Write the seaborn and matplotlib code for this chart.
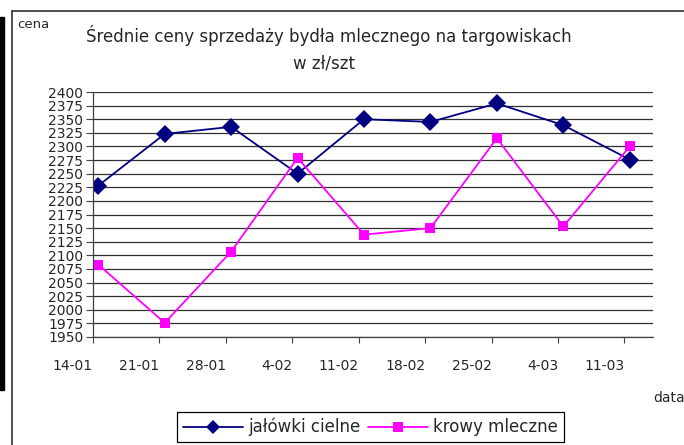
import pandas as pd
import matplotlib.pyplot as plt
import seaborn as sns
from matplotlib.lines import Line2D
from matplotlib.patches import Rectangle

# --- dane ---
daty = ['14-01', '21-01', '28-01', '4-02', '11-02', '18-02', '25-02', '4-03', '11-03']
jalowki = [2228, 2323, 2336, 2250, 2350, 2345, 2379, 2339, 2276]
krowy = [2083, 1976, 2107, 2279, 2138, 2150, 2315, 2153, 2300]
serie = ['jałówki cielne', 'krowy mleczne']
y_ticks = list(range(1950, 2401, 25))

kolory = {'jałówki cielne': '#000080', 'krowy mleczne': '#FF00FF'}
markery = {'jałówki cielne': 'D', 'krowy mleczne': 's'}

# punkty leżą nieco na prawo od kresek osi (oś dat w oryginale)
df = pd.DataFrame({
    'x': [i + 0.08 for i in range(len(daty))] * 2,
    'cena': jalowki + krowy,
    'seria': [serie[0]] * len(daty) + [serie[1]] * len(daty),
})

sns.set_style('white')
plt.rcParams['font.family'] = ['DejaVu Sans']

fig = plt.figure(figsize=(6.84, 4.45), dpi=100)
ax = fig.add_axes([93 / 684, 1 - 337 / 445, (653 - 93) / 684, (337 - 92) / 445])

sns.lineplot(data=df, x='x', y='cena', hue='seria', style='seria',
             palette=kolory, markers=markery, dashes=False, ax=ax,
             linewidth=1.3, markeredgewidth=0, legend=False)
# kwadraty trochę mniejsze niż romby
for line, ms in zip(ax.lines, [9.5, 7.5]):
    line.set_markersize(ms)

ax.set_ylim(1950, 2400)
ax.set_yticks(y_ticks)
ax.set_xlim(0, 8.43)
ax.set_xticks(range(len(daty)))
ax.set_xticklabels(daty, ha='right')
ax.tick_params(axis='y', length=5, width=0.8, color='#404040', labelsize=10, pad=2, left=True)
ax.tick_params(axis='x', length=4, width=0.8, color='#404040', labelsize=10, pad=12, bottom=True)
ax.set_xlabel('')
ax.set_ylabel('')

ax.yaxis.grid(True, color='#303030', linewidth=0.9)
ax.xaxis.grid(False)
for s in ['top', 'right']:
    ax.spines[s].set_visible(False)
ax.spines['left'].set_color('#404040')
ax.spines['bottom'].set_color('#404040')
ax.spines['left'].set_linewidth(0.9)
ax.spines['bottom'].set_linewidth(0.9)

# tytuł i opisy osi
fig.text(329 / 684, 1 - 35 / 445, 'Średnie ceny sprzedaży bydła mlecznego na targowiskach',
         ha='center', va='center', fontsize=12)
fig.text(324 / 684, 1 - 64 / 445, 'w zł/szt', ha='center', va='center', fontsize=12)
fig.text(17 / 684, 1 - 25 / 445, 'cena', ha='left', va='center', fontsize=9.5)
fig.text(653 / 684, 1 - 398 / 445, 'data', ha='left', va='center', fontsize=10)

# legenda
uchwyty = [Line2D([], [], color=kolory[s], marker=markery[s], markersize=ms,
                  markeredgewidth=0, linewidth=1.3)
           for s, ms in zip(serie, [7.5, 7])]
leg = fig.legend(uchwyty, serie, loc='upper left',
                 bbox_to_anchor=(177 / 684, 1 - 412 / 445), ncol=2,
                 fontsize=12, frameon=True, fancybox=False, framealpha=1,
                 edgecolor='black', borderaxespad=0, handlelength=3.6,
                 columnspacing=0.5, handletextpad=0.3, borderpad=0.35)
leg.get_frame().set_linewidth(0.9)

# ramka obszaru wykresu
fig.add_artist(Line2D([12 / 684, 12 / 684], [0, 1 - 11 / 445], color='#303030', linewidth=1.2))
fig.add_artist(Line2D([12 / 684, 1], [1 - 11 / 445, 1 - 11 / 445], color='#303030', linewidth=1.2))
fig.add_artist(Rectangle((0, 1 - 390 / 445), 3.5 / 684, (390 - 17) / 445,
                         transform=fig.transFigure, color='black'))

fig.savefig('out.png', dpi=100)
